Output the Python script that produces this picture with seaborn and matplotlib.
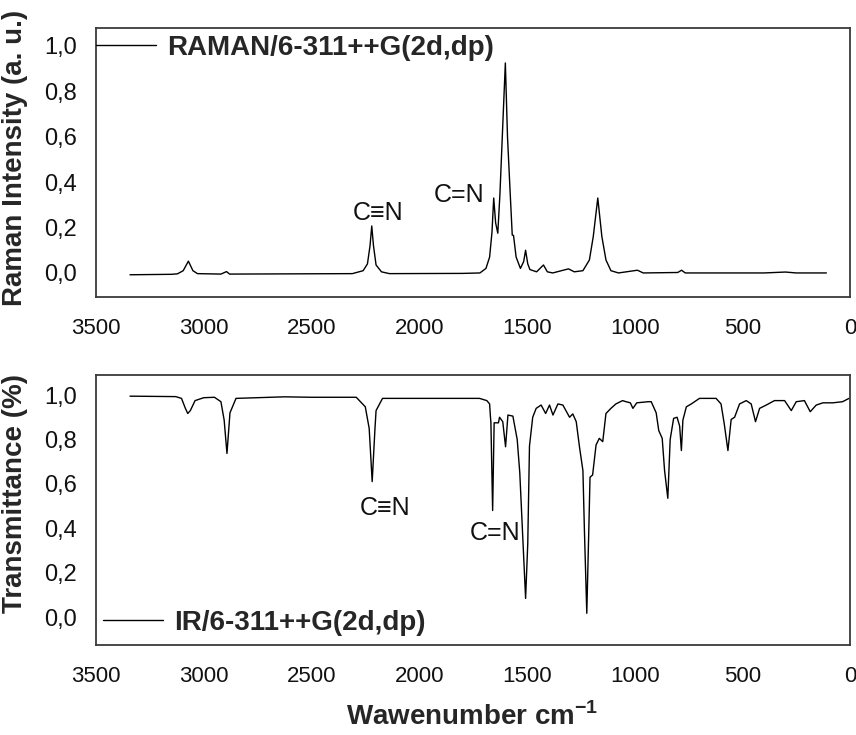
import numpy as np
import pandas as pd
import matplotlib
matplotlib.use("Agg")
import matplotlib.pyplot as plt
from matplotlib.ticker import FuncFormatter
import seaborn as sns

# ---------------- data ----------------
raman_wn = [3342, 3150, 3122, 3095, 3071, 3050, 3029, 2920, 2894, 2880,
            2310, 2260, 2240, 2228, 2220, 2212, 2200, 2175, 2138, 1800,
            1718, 1690, 1673, 1662, 1654, 1645, 1635, 1625, 1612, 1600,
            1590, 1580, 1568, 1562, 1550, 1530, 1515, 1506, 1496, 1486,
            1455, 1423, 1405, 1380, 1307, 1280, 1240, 1210, 1192, 1171,
            1152, 1133, 1110, 1075, 987, 960, 800, 782, 765, 400,
            300, 250, 110]
raman_int = [-0.008, -0.006, -0.004, 0.01, 0.052, 0.01, -0.003, -0.005, 0.006, -0.005,
             -0.003, 0.01, 0.04, 0.12, 0.207, 0.12, 0.035, 0.005, -0.003, -0.002,
             0.0, 0.02, 0.07, 0.18, 0.33, 0.22, 0.175, 0.35, 0.65, 0.925,
             0.6, 0.40, 0.167, 0.165, 0.07, 0.02, 0.05, 0.10, 0.04, 0.015,
             0.005, 0.035, 0.005, 0.0, 0.018, 0.005, 0.01, 0.057, 0.16, 0.33,
             0.16, 0.057, 0.01, 0.0, 0.012, 0.0, 0.002, 0.012, 0.0, 0.0,
             0.004, 0.0, 0.0]

ir_wn = [3342, 3130, 3103, 3085, 3074, 3062, 3040, 3000, 2950, 2920,
         2905, 2892, 2878, 2850, 2626, 2500, 2292, 2250, 2232, 2218,
         2205, 2200, 2170, 1720, 1686, 1673, 1669, 1667, 1659, 1652,
         1632, 1627, 1612, 1599, 1588, 1565, 1545, 1533, 1506, 1496,
         1488, 1473, 1457, 1434, 1413, 1395, 1379, 1356, 1333, 1302,
         1287, 1271, 1256, 1240, 1233, 1222, 1213, 1207, 1195, 1179,
         1164, 1148, 1133, 1110, 1087, 1056, 1040, 1020, 1008, 990,
         937, 923, 900, 888, 872, 861, 846, 835, 819, 803,
         791, 783, 776, 760, 737, 699, 622, 599, 584, 567,
         552, 536, 513, 482, 459, 439, 420, 389, 351, 304,
         273, 250, 212, 185, 157, 126, 80, 35, 5]
ir_tr = [0.995, 0.993, 0.985, 0.94, 0.917, 0.93, 0.975, 0.988, 0.99, 0.97,
         0.887, 0.737, 0.92, 0.985, 0.992, 0.99, 0.99, 0.947, 0.85, 0.61,
         0.85, 0.93, 0.985, 0.985, 0.975, 0.96, 0.90, 0.875, 0.48, 0.875,
         0.875, 0.90, 0.88, 0.767, 0.91, 0.905, 0.80, 0.65, 0.084, 0.33,
         0.77, 0.90, 0.94, 0.955, 0.917, 0.955, 0.91, 0.96, 0.955, 0.90,
         0.915, 0.88, 0.767, 0.66, 0.39, 0.017, 0.38, 0.63, 0.64, 0.775,
         0.805, 0.79, 0.917, 0.94, 0.96, 0.975, 0.97, 0.965, 0.94, 0.965,
         0.97, 0.97, 0.92, 0.84, 0.805, 0.66, 0.535, 0.80, 0.895, 0.90,
         0.86, 0.75, 0.887, 0.947, 0.96, 0.985, 0.985, 0.96, 0.87, 0.75,
         0.89, 0.90, 0.96, 0.975, 0.96, 0.88, 0.94, 0.955, 0.975, 0.975,
         0.93, 0.97, 0.975, 0.925, 0.955, 0.965, 0.965, 0.97, 0.985]

x_ticks = [3500, 3000, 2500, 2000, 1500, 1000, 500, 0]
y_ticks = [0.0, 0.2, 0.4, 0.6, 0.8, 1.0]

raman_label = "RAMAN/6-311++G(2d,dp)"
ir_label = "IR/6-311++G(2d,dp)"
raman_ylabel = "Raman Intensity (a. u.)"
ir_ylabel = "Transmittance (%)"
xlabel = "Wawenumber cm$^{\\mathbf{-1}}$"

# annotations: (text, wavenumber, value)
raman_notes = [("C\u2261N", 2193, 0.264), ("C=N", 1813, 0.344)]
ir_notes = [("C\u2261N", 2156, 0.491), ("C=N", 1646, 0.378)]

# ---------------- style ----------------
sns.set_theme(style="white")
plt.rcParams['font.family'] = ['Liberation Sans', 'DejaVu Sans']
plt.rcParams['mathtext.fontset'] = 'custom'
plt.rcParams['mathtext.rm'] = 'Liberation Sans'
plt.rcParams['mathtext.bf'] = 'Liberation Sans:bold'

fig = plt.figure(figsize=(8.56, 7.35), dpi=100)
ax1 = fig.add_axes([0.1121, 0.5959, 0.8810, 0.3660])
ax2 = fig.add_axes([0.1121, 0.1224, 0.8810, 0.3673])

raman_df = pd.DataFrame({"wn": raman_wn, "val": raman_int})
ir_df = pd.DataFrame({"wn": ir_wn, "val": ir_tr})

sns.lineplot(data=raman_df, x="wn", y="val", ax=ax1, color="black",
             linewidth=1.0, label=raman_label, sort=True, estimator=None)
sns.lineplot(data=ir_df, x="wn", y="val", ax=ax2, color="black",
             linewidth=1.0, label=ir_label, sort=True, estimator=None)

comma = FuncFormatter(lambda v, p: f"{v:.1f}".replace(".", ","))
spine_col = "#3a3a3a"

for ax, ylim in ((ax1, (-0.106, 1.079)), (ax2, (-0.126, 1.09))):
    ax.set_xlim(3500, 0)
    ax.set_ylim(*ylim)
    ax.set_xticks(x_ticks)
    ax.set_yticks(y_ticks)
    ax.yaxis.set_major_formatter(comma)
    ax.tick_params(axis="both", length=0, colors="#111111")
    ax.tick_params(axis="y", labelsize=17, pad=14)
    ax.tick_params(axis="x", labelsize=16, pad=15)
    for s in ax.spines.values():
        s.set_visible(True)
        s.set_color(spine_col)
        s.set_linewidth(1.3)
    ax.set_xlabel("")

ax1.set_ylabel(raman_ylabel, fontsize=20, fontweight="bold")
ax2.set_ylabel(ir_ylabel, fontsize=20, fontweight="bold")
ax1.yaxis.set_label_coords(-0.090, 0.517)
ax2.yaxis.set_label_coords(-0.090, 0.561)

leg_kw = dict(frameon=False, borderpad=0, borderaxespad=0, handlelength=2.15,
              handletextpad=0.4, prop={"weight": "bold", "size": 20})
l1 = ax1.legend(loc="center left", bbox_to_anchor=(0.0, 0.926), **leg_kw)
l2 = ax2.legend(loc="center left", bbox_to_anchor=(0.0093, 0.0815), **leg_kw)
for l in (l1, l2):
    for h in l.get_lines():
        h.set_linewidth(1.0)

for ax, notes in ((ax1, raman_notes), (ax2, ir_notes)):
    for txt, xw, yv in notes:
        ax.text(xw, yv, txt, fontsize=18, ha="center", va="center",
                color="#111111", family=['Liberation Sans', 'DejaVu Sans'])

fig.text(0.551, 0.0245, xlabel, fontsize=20, fontweight="bold",
         ha="center", va="center")

fig.savefig("out.png", dpi=100)
